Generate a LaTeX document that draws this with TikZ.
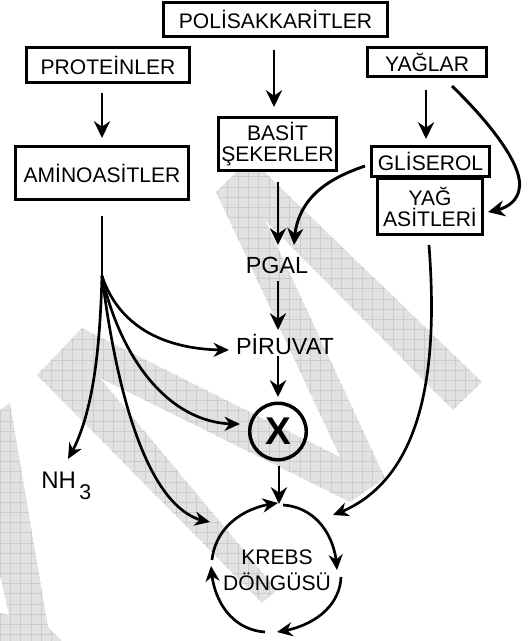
\documentclass[tikz,border=0pt]{standalone}
\usepackage{fontspec}
\setmainfont{Liberation Sans}
\usetikzlibrary{arrows.meta,bending}
\definecolor{wmfill}{HTML}{E2E2E2}
\definecolor{wmline}{HTML}{CCCCCC}
\tikzset{
  px/.style={x=0.75pt,y=-0.75pt},
  box/.style={draw=black,line width=2.2pt,fill=white,inner sep=0pt,align=center,font=\fontsize{15.8pt}{15.8pt}\selectfont},
  lab/.style={inner sep=0pt,align=center,font=\fontsize{17.5pt}{19pt}\selectfont},
  conn/.style={line width=2.2pt,draw=black,-{Stealth[length=12.5pt,width=12pt,inset=4pt]}},
  thinconn/.style={line width=2pt,draw=black,-{Stealth[length=11.5pt,width=10.5pt,inset=3.6pt]}},
}
\newcommand{\wmgrid}{%
  \fill[wmfill] (0,0) rectangle (529,641);
  \foreach \i in {0,...,52} {
    \draw[wmline,line width=0.6pt] ({\i*10.35},0) -- ({\i*10.35},641);
  }
  \foreach \i in {0,...,64} {
    \draw[wmline,line width=0.6pt] (0,{\i*10.17+4}) -- (529,{\i*10.17+4});
  }%
}
\begin{document}
\begin{tikzpicture}[px]
\useasboundingbox (0,0) rectangle (529,641);
% watermark
\begin{scope}
\clip (216,192) -- (250,158) -- (482,382) -- (453,410) -- (265,220) -- (385,478) -- (350,502) -- (100,378) -- (277,590) -- (262,603) -- (37,375) -- (82,328) -- (340,457) -- cycle;
\wmgrid
\end{scope}
\begin{scope}
\clip (10,403) -- (48,627) -- (62,641) -- (0,641) -- (0,613) -- (9,615) -- (0,575) -- (0,410) -- cycle;
\wmgrid
\end{scope}
% boxes
\node[box,minimum width=168pt,minimum height=25.5pt] (poli) at (275.5,19.5) {POLİSAKKARİTLER};
\node[box,minimum width=122pt,minimum height=26pt] (prot) at (108,65) {PROTEİNLER};
\node[box,minimum width=89pt,minimum height=21.7pt] (yag) at (427,62) {YAĞLAR};
\node[box,minimum width=130pt,minimum height=39.7pt] (amino) at (102,173) {AMİNOASİTLER};
\node[box,minimum width=88.5pt,minimum height=39.7pt] (basit) at (277.5,144) {BASİT\\ŞEKERLER};
\node[box,minimum width=78.7pt,minimum height=42pt] (yagas) at (430,206.5) {YAĞ\\ASİTLERİ};
\node[box,minimum width=88.5pt,minimum height=22.5pt] (glis) at (430.5,161.5) {GLİSEROL};
\node[lab] (pgal) at (277,265) {PGAL};
\node[lab] (piruvat) at (285,344) {PİRUVAT};
\node[lab,anchor=base west] (nh3) at (41,488) {\fontsize{18pt}{19pt}\selectfont NH\hspace{2.5pt}\raisebox{-8.5pt}{\fontsize{16pt}{16pt}\selectfont 3}};
\node[draw=black,line width=2.6pt,circle,minimum size=42.4pt,inner sep=0pt,font=\fontsize{29pt}{29pt}\selectfont\bfseries] (x) at (278,431.5) {X};
\node[lab,font=\fontsize{15.8pt}{19.5pt}\selectfont] (krebs) at (277,570) {KREBS\\DÖNGÜSÜ};
% free ends
\coordinate (polidown) at (274,50);
\coordinate (basitin) at (274,107);
\coordinate (protdown) at (102,93);
\coordinate (aminoin) at (102,138);
\coordinate (yagdown) at (426,90);
\coordinate (glisin) at (426,139);
\coordinate (yagr) at (452,86);
\coordinate (yagasin) at (488,212);
\coordinate (glisl) at (365,166);
\coordinate (pgalin) at (294,245);
\coordinate (basitd) at (278,182);
\coordinate (pgalin2) at (278,245);
\coordinate (pgald) at (278,281);
\coordinate (piruvatin) at (278,330);
\coordinate (piruvatd) at (278,356);
\coordinate (xin) at (278,397);
\coordinate (xd) at (279,466);
\coordinate (kin) at (279,504);
\coordinate (aminod) at (102,216);
\coordinate (hub) at (102,276);
\coordinate (pirl) at (229,350);
\coordinate (xl) at (240,424);
\coordinate (kl) at (210,522);
\coordinate (nh) at (68,459);
\coordinate (yagasd) at (429,245);
\coordinate (kr) at (333,515);
% connectors
\draw[conn] (polidown) -- (basitin);
\draw[conn] (protdown) -- (aminoin);
\draw[conn] (yagdown) -- (glisin);
\draw[conn] (yagr) .. controls (485,118) and (525,165) .. (519,190) .. controls (516,204) and (503,210) .. (yagasin);
\draw[conn] (glisl) .. controls (330,178) and (295,197) .. (pgalin);
\draw[conn] (basitd) -- (pgalin2);
\draw[conn] (pgald) -- (piruvatin);
\draw[conn] (piruvatd) -- (xin);
\draw[conn] (xd) -- (kin);
\draw[line width=2.2pt] (aminod) -- (hub);
\draw[thinconn] (hub) .. controls (115,315) and (150,351) .. (pirl);
\draw[thinconn] (hub) .. controls (118,350) and (165,427) .. (xl);
\draw[thinconn] (hub) .. controls (115,380) and (145,515) .. (kl);
\draw[thinconn] (hub) .. controls (100,340) and (95,415) .. (nh);
\draw[thinconn] (yagasd) .. controls (436,340) and (435,480) .. (kr);
% Krebs cycle
\draw[thinconn] (212,560) .. controls (215,530) and (240,507) .. (278,503);
\draw[thinconn] (283,505) .. controls (315,507) and (336,535) .. (337,570);
\draw[thinconn] (341,577) .. controls (340,605) and (315,627) .. (277,632);
\draw[thinconn] (265,632) .. controls (235,630) and (213,605) .. (211,566);
\end{tikzpicture}
\end{document}
